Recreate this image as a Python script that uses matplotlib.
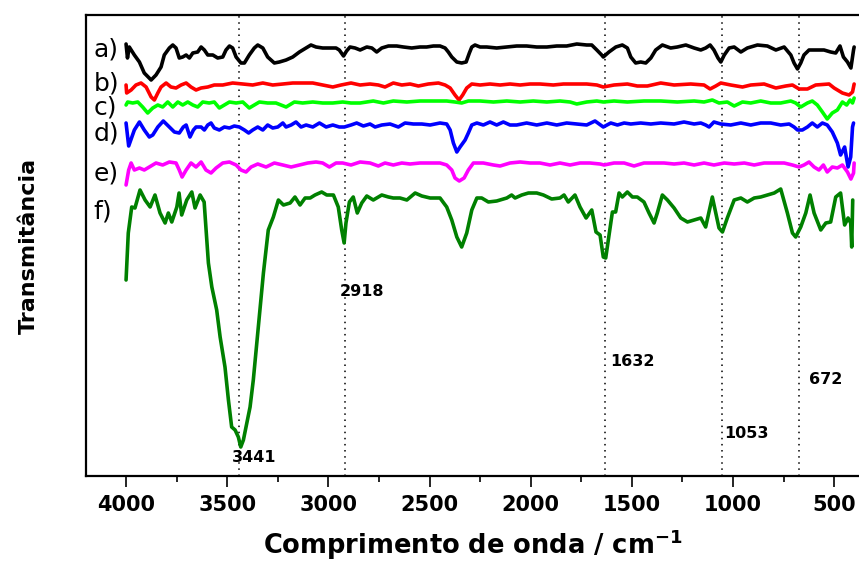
import matplotlib
matplotlib.use("Agg")
import matplotlib.pyplot as plt
from matplotlib.ticker import MultipleLocator

plt.rcParams['font.family'] = ['DejaVu Sans']

# ---------------- data (wavenumber in cm-1, transmittance in arbitrary offset units) ----------------
wn_a = [4000,3993,3984,3959,3934,3910,3876,3852,3827,3811,3786,3769,3753,3737,3720,3703,3687,3670,3646,3629,
        3613,3596,3571,3547,3522,3506,3489,3473,3456,3432,3415,3391,3366,3349,3324,3300,3267,3242,3209,3176,
        3143,3110,3086,3061,3028,2995,2962,2946,2925,2910,2893,2868,2843,2810,2785,2761,2736,2703,2662,2629,
        2588,2547,2514,2481,2448,2423,2407,2390,2365,2341,2319,2303,2291,2275,2250,2217,2168,2118,2069,2020,
        1970,1920,1871,1822,1772,1723,1698,1673,1649,1641,1613,1579,1547,1522,1505,1481,1456,1431,1406,1382,
        1349,1308,1275,1233,1192,1159,1135,1113,1094,1074,1060,1043,1019,994,961,929,879,830,788,747,
        714,698,681,665,649,624,591,550,517,492,471,454,434,417,404,401]
t_a = [436,422,433,425,418,407,400,405,413,425,432,435,432,422,423,425,422,427,428,433,
       430,425,425,422,423,430,434,432,423,417,417,425,432,435,432,423,417,418,420,423,
       428,432,435,433,432,432,432,430,424,429,433,432,430,433,432,428,432,434,434,433,
       432,433,433,434,434,432,428,423,418,417,418,427,433,435,433,433,432,433,434,434,
       433,433,434,434,436,435,435,430,425,423,428,433,435,432,423,417,418,417,422,430,
       435,432,433,435,432,430,432,435,430,422,418,425,432,433,428,432,435,434,430,433,
       425,417,411,417,425,430,430,430,428,427,434,423,418,412,430,433]

wn_b = [4000,3997,3975,3951,3926,3901,3876,3860,3843,3827,3802,3778,3753,3728,3703,3679,3654,3629,3596,3564,
        3522,3473,3423,3374,3324,3275,3225,3176,3127,3077,3028,2978,2937,2888,2843,2794,2753,2720,2679,2637,
        2596,2555,2506,2456,2423,2398,2374,2354,2336,2316,2291,2250,2201,2151,2102,2052,2003,1954,1888,1838,
        1789,1723,1673,1641,1588,1522,1473,1423,1357,1291,1209,1143,1113,1085,1060,1011,953,912,846,788,
        739,706,673,632,591,525,500,459,426,409,401]
t_b = [395,387,390,395,397,393,383,380,387,393,397,393,392,395,397,393,390,392,393,395,
       395,397,396,395,397,395,396,397,397,397,395,393,395,397,395,396,395,393,397,395,
       396,394,396,397,395,392,385,380,385,392,396,395,396,395,396,395,396,396,395,396,
       396,396,395,393,395,396,394,394,397,395,396,395,391,394,397,395,393,395,396,392,
       394,395,391,391,395,396,392,387,385,388,396]

wn_c = [4000,3992,3967,3942,3918,3893,3868,3843,3819,3794,3769,3744,3720,3695,3670,3646,3621,3589,3564,3539,
        3514,3489,3456,3423,3391,3366,3341,3300,3259,3209,3168,3127,3077,3028,2978,2929,2888,
        2843,2778,2728,2679,2612,2547,2481,2415,2374,2341,2308,2250,2184,2118,2052,1987,1920,1855,1805,
        1772,1723,1673,1641,
        1588,1522,1440,1357,1275,1192,1143,1102,1069,1028,994,953,912,863,813,764,714,690,665,632,
        608,583,558,534,509,484,459,438,421,409,401]
t_c = [375,378,377,378,373,367,372,375,373,378,373,378,375,378,375,373,378,377,378,372,
       375,378,377,378,372,375,378,377,377,373,378,377,378,377,377,378,377,
       377,379,377,379,378,379,379,379,378,377,379,379,378,379,378,379,378,379,378,
       376,378,379,378,
       379,378,379,379,378,379,378,380,377,378,374,378,377,379,377,377,379,377,373,377,
       379,375,368,361,367,370,378,375,380,377,382]

wn_d = [4000,3987,3959,3934,3910,3885,3868,3843,3816,3786,3761,3737,3717,3703,3684,3667,3654,3629,3613,3596,
        3580,3564,3539,3514,3489,3465,3440,3415,3394,3374,3349,3324,3300,3275,3250,3225,3209,3184,3160,3135,
        3110,3077,3044,3011,2978,2946,2921,2888,
        2860,2827,2794,2769,2736,2695,2654,2621,2580,2538,2497,2448,2415,2398,2382,2365,2349,2324,2308,2291,
        2266,2234,2201,2168,2135,2102,2069,2020,1970,1920,1871,1822,1772,1723,1682,1641,
        1604,1571,1538,1505,1456,1406,1357,1291,1242,1192,1159,1135,1118,1094,1060,1011,961,912,863,813,
        764,722,698,681,657,632,608,583,558,534,509,484,468,448,431,418,409,404]
t_d = [357,334,350,358,350,343,345,353,359,353,348,347,353,355,343,350,353,353,350,355,
       357,352,350,353,352,354,353,350,347,350,353,350,355,352,353,357,353,355,358,353,
       355,353,357,353,355,353,353,355,
       357,354,356,353,355,356,353,357,356,356,355,357,356,350,337,328,333,340,347,355,
       357,355,358,355,358,355,355,357,355,357,355,357,356,355,359,353,
       357,355,357,356,357,356,357,356,358,356,357,355,353,358,356,355,357,355,357,357,
       355,356,353,350,350,353,357,353,357,355,348,337,325,333,313,323,353,357]

wn_e = [4000,3987,3975,3959,3934,3910,3885,3852,3819,3786,3753,3737,3723,3703,3679,3654,3629,3605,3580,3555,
        3522,3489,3456,3432,3407,3382,3349,3308,3267,3225,3184,3143,3102,3061,3028,2995,2962,2929,2888,
        2843,2794,2753,2720,2679,2637,2596,2547,2497,2448,2415,2390,2374,2353,2329,2308,2283,2234,2184,2151,
        2102,2052,2003,1954,1904,1855,1805,1756,1707,1657,
        1637,1588,1538,1489,1440,1390,1341,1291,1242,1192,1143,1094,1043,994,944,895,846,796,747,706,
        673,649,624,599,575,553,534,509,484,459,434,417,404,401]
t_e = [295,310,317,310,312,310,313,317,315,318,317,310,303,310,317,313,318,310,307,312,
       317,318,315,310,308,313,316,313,317,315,313,315,317,318,317,313,317,317,315,
       318,317,314,317,315,317,316,317,317,317,315,310,302,299,302,310,317,317,315,314,
       317,318,317,317,315,317,315,317,317,316,
       315,317,317,314,317,317,317,316,317,315,317,315,317,316,317,315,317,317,317,315,
       313,315,318,313,310,315,308,313,312,315,308,301,307,317]

wn_f = [4000,3989,3972,3956,3931,3906,3881,3857,3832,3807,3791,3774,3749,3738,3725,3700,3675,3659,3634,3614,
        3593,3576,3552,3535,3511,3494,3478,3461,3445,3433,3420,3403,3387,3371,3346,3321,3297,3272,3247,3222,
        3189,3165,3140,3115,3090,3066,3033,3008,2975,2951,2934,2922,2913,2896,2877,2857,2835,2810,2778,2736,
        2703,2679,2646,2612,2571,2538,2497,2448,2415,2390,2365,2341,2316,2291,2266,2242,2209,2168,2118,2094,
        2077,2044,2011,1970,1937,1896,1855,1835,1814,1781,1756,1726,1698,1677,1657,1641,1629,1621,1596,1580,
        1563,1547,1522,1497,1473,1440,1415,1390,1374,1349,1324,1291,1258,1225,1192,1159,1135,1113,1102,1085,
        1069,1052,1028,994,961,929,895,863,830,796,764,731,706,690,665,640,619,599,566,541,
        517,492,468,448,431,418,413,408]
t_f = [200,247,273,272,290,280,273,285,267,257,267,258,273,287,265,280,288,272,285,278,
       217,193,170,143,113,80,53,50,43,33,40,57,73,100,153,207,250,263,280,275,
       277,283,275,282,282,285,288,285,285,273,250,237,257,278,283,267,277,284,280,285,
       283,282,282,280,287,284,282,282,273,260,243,233,247,270,282,282,278,279,282,285,
       282,285,287,287,285,281,282,285,278,285,273,262,270,248,245,223,222,233,268,268,
       287,283,288,283,283,278,267,257,267,285,280,272,262,258,260,262,253,273,283,267,
       252,248,262,280,282,278,282,283,285,287,291,267,247,243,253,267,285,267,250,257,
       258,283,287,255,262,257,233,280]

trace_labels = ['a)', 'b)', 'c)', 'd)', 'e)', 'f)']
label_levels = [430, 397, 372, 346, 307, 268]
colors = ['#000000', '#ff0000', '#00ff00', '#0000ff', '#ff00ff', '#008000']

peak_positions = [3441, 2918, 1632, 1053, 672]
peak_text = ['3441', '2918', '1632', '1053', '672']
peak_text_x = [3367, 2835, 1499, 935, 540]
peak_text_y = [23, 188, 118, 47, 100]

xticks = [4000, 3500, 3000, 2500, 2000, 1500, 1000, 500]

# ---------------- figure ----------------
W, H = 859, 562
fig = plt.figure(figsize=(W / 100, H / 100), dpi=100)
ax = fig.add_axes([86 / W, 1 - 476 / H, (W - 86) / W, (476 - 15) / H])

series = [(wn_a, t_a), (wn_b, t_b), (wn_c, t_c), (wn_d, t_d), (wn_e, t_e), (wn_f, t_f)]
for (wx, ty), col in zip(series, colors):
    ax.plot(wx, ty, color=col, lw=2.6, solid_joinstyle='round', solid_capstyle='round', zorder=3)

for p in peak_positions:
    ax.axvline(p, color='black', lw=1.1, linestyle=(0, (1, 3)), zorder=1)

for lab, lv in zip(trace_labels, label_levels):
    ax.text(4160, lv, lab, fontsize=18, ha='left', va='center', color='black')

for tx, xx, yy in zip(peak_text, peak_text_x, peak_text_y):
    ax.text(xx, yy, tx, fontsize=11.5, fontweight='bold', ha='center', va='center')

ax.set_xlim(4198, 377)
ax.set_ylim(4, 465)
ax.set_xticks(xticks)
ax.set_xticklabels([str(v) for v in xticks])
ax.xaxis.set_minor_locator(MultipleLocator(250))
ax.set_yticks([])
ax.tick_params(axis='x', which='major', direction='out', length=8, width=1.2,
               labelsize=15, pad=6)
ax.tick_params(axis='x', which='minor', direction='out', length=4, width=1.2)
for lbl in ax.get_xticklabels():
    lbl.set_fontweight('bold')
for s in ['left', 'bottom', 'top']:
    ax.spines[s].set_linewidth(1.6)
ax.spines['right'].set_visible(False)

ax.set_xlabel('Comprimento de onda / cm$^{\\mathbf{-1}}$', fontsize=18.5, fontweight='bold', labelpad=9)
fig.text(29 / W, 1 - 246 / H, 'Transmitância', rotation=90, fontsize=16, fontweight='bold',
         ha='center', va='center')

fig.savefig('out.png', dpi=100)
